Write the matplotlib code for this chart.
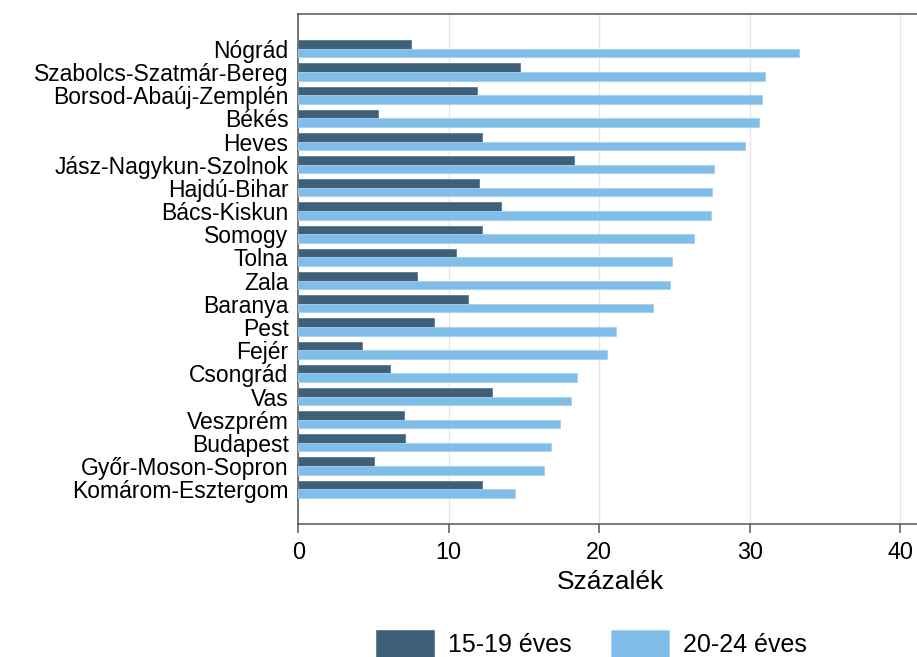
import matplotlib
matplotlib.use("Agg")
import matplotlib.pyplot as plt
import numpy as np

plt.rcParams['font.family'] = ['Liberation Sans', 'DejaVu Sans']

counties = ["Nógrád", "Szabolcs-Szatmár-Bereg", "Borsod-Abaúj-Zemplén", "Békés",
            "Heves", "Jász-Nagykun-Szolnok", "Hajdú-Bihar", "Bács-Kiskun",
            "Somogy", "Tolna", "Zala", "Baranya", "Pest", "Fejér", "Csongrád",
            "Vas", "Veszprém", "Budapest", "Győr-Moson-Sopron", "Komárom-Esztergom"]
age_15_19 = [7.5, 14.7, 11.9, 5.3, 12.2, 18.3, 12.0, 13.5, 12.2, 10.5,
             7.9, 11.3, 9.0, 4.2, 6.1, 12.9, 7.0, 7.1, 5.0, 12.2]
age_20_24 = [33.3, 31.0, 30.8, 30.6, 29.7, 27.6, 27.5, 27.4, 26.3, 24.8,
             24.7, 23.6, 21.1, 20.5, 18.5, 18.1, 17.4, 16.8, 16.3, 14.4]
series_labels = ["15-19 éves", "20-24 éves"]
xticks = [0, 10, 20, 30, 40]

dark = "#3e6079"
light = "#80bde8"

W, H = 917, 657
fig = plt.figure(figsize=(W / 100, H / 100), dpi=100)
ax = fig.add_axes([298.3 / W, (H - 524) / H, (922.9 - 298.3) / W, (524 - 14) / H])

n = len(counties)
y = np.arange(n)[::-1]
h = 0.37
ax.barh(y + h / 2, age_15_19, height=h, color=dark, edgecolor="#5a7b94", linewidth=0.6,
        label=series_labels[0], zorder=3)
ax.barh(y - h / 2, age_20_24, height=h, color=light, edgecolor="#a6d1ef", linewidth=0.6,
        label=series_labels[1], zorder=3)

ax.set_ylim(-1.5, 20.5)
ax.set_xlim(0, 41.5)
ax.set_yticks(y)
ax.set_yticklabels(counties, fontsize=16.5)
ax.tick_params(axis='y', length=0, pad=7)
ax.set_xticks(xticks)
ax.set_xticklabels([str(t) for t in xticks], fontsize=16.8)
ax.tick_params(axis='x', length=6.5, width=1.1, color="#555555", pad=6)
ax.set_xlabel("Százalék", fontsize=19, labelpad=4)

ax.grid(axis='x', color="#e6e6e6", linewidth=1.0, zorder=0)
ax.set_axisbelow(True)
for s in ['left', 'bottom', 'top']:
    ax.spines[s].set_color("#555555")
    ax.spines[s].set_linewidth(1.1)
ax.spines['right'].set_visible(False)

handles, labels = ax.get_legend_handles_labels()
fig.legend(handles, labels, loc='upper center', bbox_to_anchor=(0.645, (H - 612) / H),
           ncol=2, frameon=False, fontsize=18, handlelength=2.3, handleheight=1.4,
           handletextpad=0.55, columnspacing=1.6, borderpad=0.2)

fig.savefig("out.png", dpi=100)
